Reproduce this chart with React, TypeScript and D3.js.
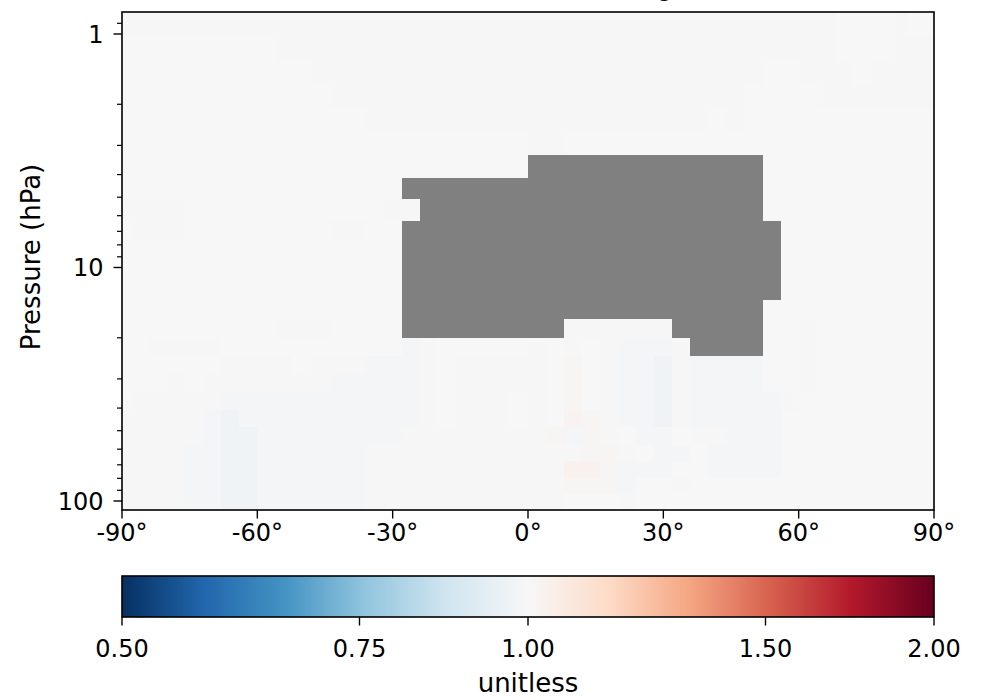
import React from 'react';
import * as d3 from 'd3';

// ---- data ----
const LAT_EDGES = [-90, -88, -84, -80, -76, -72, -68, -64, -60, -56, -52, -48, -44, -40, -36, -32, -28, -24, -20, -16, -12, -8, -4, 0, 4, 8, 12, 16, 20, 24, 28, 32, 36, 40, 44, 48, 52, 56, 60, 64, 68, 72, 76, 80, 84, 88, 90];

// pressure cell edges (hPa), top of plot to bottom
const PRESSURE_EDGES = [0.805, 1.03, 1.32, 1.65, 2.08, 2.63, 3.3, 4.14, 5.09, 6.32, 7.7, 9.38, 11.3, 13.8, 16.6, 20.0, 23.9, 28.6, 34.1, 40.8, 48.2, 57.6, 67.4, 79.7, 93.3, 109.3];

// code letter -> ratio value ('#' = undefined / NaN)
const VALUE_CODES: Record<string, number> = {
  '.': 1.0,
  g: 0.995,
  b: 0.986,
  B: 0.972,
  p: 1.008,
  q: 1.018,
  P: 1.03,
  '#': NaN,
};

// one string per pressure row (top to bottom), one letter per latitude cell (south to north)
const RATIO_ROWS = [
  'gggggggggggggggggggggggggggggggggggggggg...g..',
  '.........ggggggggggggggggggggggggggggggg...ggg',
  '...........ggggggggggggggggggggggggg..ggg.gggg',
  '............ggggggggggggggggggggggg....ggggggg',
  '..............ggggggggggggggggggg.g...........',
  '.......................gg.....................',
  '.......................#############..........',
  '................####################..........',
  'gggg...........gg###################..........',
  '.ggg........gg..#####################.........',
  '................#####################.........',
  '................#####################.........',
  '................#####################.........',
  '................####################..........',
  '.........ggg....#########gggggg#####..g.......',
  '..gggg..........bg.....g.g.gbbbg####..g.......',
  '......gggg.gggbbbg.ggggg.p.gbbBgbbbb..g.......',
  '...g.gggggggbbbbbg.ggggg.p.gbbBgbbbb..g.......',
  '.gggggbbbbbbbbbbbg.ggg.g.p.gbbBgbbbbbg........',
  'gggggbBbbbbbbbbbbg.ggg.g.qpgbbBgbbbbb.........',
  'gggggbBBbbbbbbbbggggggggpbpg.bb.ggbbb.........',
  'ggggbbBBbbbbbbggggggggggggppg.bb.bbbb.........',
  'ggggbbBBbbbbbbgggggggggggPPpbbb..bbbb.........',
  'ggggbbBBbbbbbbgggggggggggpppb..g..............',
  'ggggbbBBbbbbbbggggggggggg...g.................',
];

const LAT_TICKS = [-90, -60, -30, 0, 30, 60, 90];
const LAT_TICK_LABELS = ['-90°', '-60°', '-30°', '0°', '30°', '60°', '90°'];
const P_MAJOR_TICKS = [1, 10, 100];
const P_TICK_LABELS = ['1', '10', '100'];
const CBAR_TICKS = [0.5, 0.75, 1.0, 1.5, 2.0];
const CBAR_TICK_LABELS = ['0.50', '0.75', '1.00', '1.50', '2.00'];
const CBAR_DOMAIN = [0.5, 2.0];
const TITLE = 'Ratio (Dev/Ref), Fixed Range';
const Y_LABEL = 'Pressure (hPa)';
const CBAR_LABEL = 'unitless';

// RdBu_r colormap anchors
const RDBU_R = ['#053061', '#2166ac', '#4393c3', '#92c5de', '#d1e5f0', '#f7f7f7', '#fddbc7', '#f4a582', '#d6604d', '#b2182b', '#67001f'];
const NAN_COLOR = '#808080';

const FONT = "'DejaVu Sans', sans-serif";
const FS = 24;

export default function App() {
  const W = 981;
  const H = 700;
  const L = 122, R = 934, T = 12, B = 510;
  const CB_T = 576, CB_B = 617;
  const MAJ = 8.5, MIN = 5;

  const x = d3.scaleLinear().domain([-90, 90]).range([L, R]);
  const y = d3
    .scaleLog()
    .domain([PRESSURE_EDGES[PRESSURE_EDGES.length - 1], PRESSURE_EDGES[0]])
    .range([B, T]);
  const norm = d3.scaleLog().domain(CBAR_DOMAIN).range([0, 1]).clamp(true);
  const cmap = d3
    .scaleLinear<string>()
    .domain(RDBU_R.map((_, i) => i / (RDBU_R.length - 1)))
    .range(RDBU_R)
    .interpolate(d3.interpolateRgb);
  const cx = d3.scaleLog().domain(CBAR_DOMAIN).range([L, R]);

  const cells: React.ReactNode[] = [];
  RATIO_ROWS.forEach((row, r) => {
    Array.from(row).forEach((ch, c) => {
      const v = VALUE_CODES[ch];
      const x0 = x(LAT_EDGES[c]);
      const x1 = x(LAT_EDGES[c + 1]);
      const y0 = y(PRESSURE_EDGES[r]);
      const y1 = y(PRESSURE_EDGES[r + 1]);
      const fill = Number.isNaN(v) ? NAN_COLOR : cmap(norm(v));
      cells.push(
        <rect key={`${r}-${c}`} x={x0} y={y0} width={x1 - x0 + 0.3} height={y1 - y0 + 0.3} fill={fill} />
      );
    });
  });

  const majorSet = new Set(P_MAJOR_TICKS);
  const minorTicks = y.ticks().filter((t) => !majorSet.has(t));

  return (
    <div style={{ position: 'absolute', left: 0, top: 0 }}>
      <svg width={W} height={H} style={{ display: 'block', background: '#fff' }} fontFamily={FONT}>
        <defs>
          <linearGradient id="cbar" x1="0" x2="1" y1="0" y2="0">
            {RDBU_R.map((c, i) => (
              <stop key={i} offset={i / (RDBU_R.length - 1)} stopColor={c} />
            ))}
          </linearGradient>
        </defs>

        <text x={(L + R) / 2} y={-3} textAnchor="middle" fontSize={22} fill="#000">
          {TITLE}
        </text>

        <g shapeRendering="crispEdges">{cells}</g>

        {/* axes frame */}
        <rect x={L} y={T} width={R - L} height={B - T} fill="none" stroke="#000" strokeWidth={1.6} />

        {/* y ticks */}
        {minorTicks.map((t) => (
          <line key={`mn${t}`} x1={L - MIN} x2={L} y1={y(t)} y2={y(t)} stroke="#000" strokeWidth={1.2} />
        ))}
        {P_MAJOR_TICKS.map((t, i) => (
          <g key={`mj${t}`}>
            <line x1={L - MAJ} x2={L} y1={y(t)} y2={y(t)} stroke="#000" strokeWidth={1.4} />
            <text x={L - MAJ - 10} y={y(t)} dy="0.36em" textAnchor="end" fontSize={FS} fill="#000">
              {P_TICK_LABELS[i]}
            </text>
          </g>
        ))}

        {/* x ticks */}
        {LAT_TICKS.map((t, i) => (
          <g key={`x${t}`}>
            <line x1={x(t)} x2={x(t)} y1={B} y2={B + MAJ} stroke="#000" strokeWidth={1.4} />
            <text x={x(t)} y={541} textAnchor="middle" fontSize={FS} fill="#000">
              {LAT_TICK_LABELS[i]}
            </text>
          </g>
        ))}

        <text
          transform={`translate(40, ${(T + B) / 2 - 4}) rotate(-90)`}
          textAnchor="middle"
          fontSize={26}
          fill="#000"
        >
          {Y_LABEL}
        </text>

        {/* colorbar */}
        <rect x={L} y={CB_T} width={R - L} height={CB_B - CB_T} fill="url(#cbar)" stroke="#000" strokeWidth={1.6} />
        {CBAR_TICKS.map((t, i) => (
          <g key={`cb${t}`}>
            <line x1={cx(t)} x2={cx(t)} y1={CB_B} y2={CB_B + MAJ} stroke="#000" strokeWidth={1.4} />
            <text x={cx(t)} y={657} textAnchor="middle" fontSize={FS} fill="#000">
              {CBAR_TICK_LABELS[i]}
            </text>
          </g>
        ))}
        <text x={(L + R) / 2} y={692} textAnchor="middle" fontSize={26} fill="#000">
          {CBAR_LABEL}
        </text>
      </svg>
    </div>
  );
}
